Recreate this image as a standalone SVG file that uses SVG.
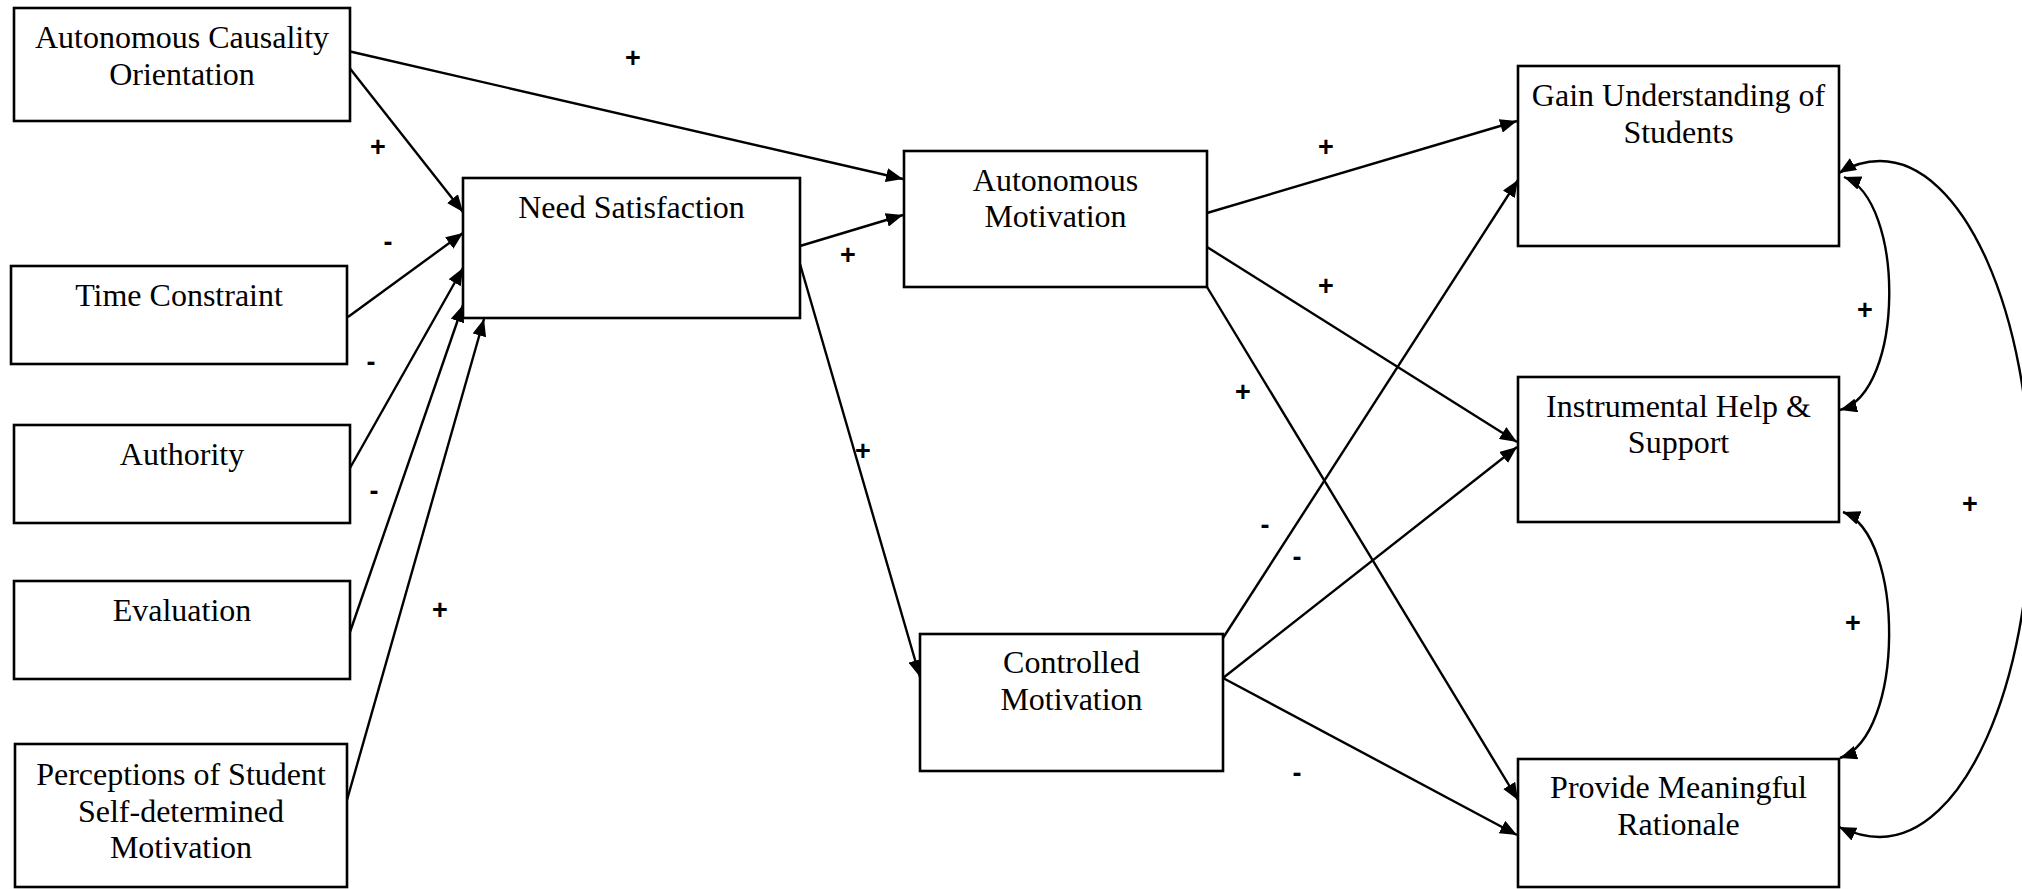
<svg xmlns="http://www.w3.org/2000/svg" width="2022" height="889" viewBox="0 0 2022 889">
<style>
.box{fill:#fff;stroke:#000;stroke-width:2.6}
.t{font-family:'Liberation Serif','Times New Roman',Tinos,'DejaVu Serif',serif;font-size:32px;text-anchor:middle;fill:#000}
.e{fill:none;stroke:#000;stroke-width:2.4}
.lb{font-family:'Liberation Sans',Arial,sans-serif;font-size:27px;font-weight:bold;text-anchor:middle;fill:#000}
</style>
<defs>
<marker id="ah" markerUnits="userSpaceOnUse" markerWidth="17" markerHeight="14" refX="17" refY="7" orient="auto-start-reverse" viewBox="0 0 17 14">
<path d="M0,0 L17,7 L0,14 z" fill="#000"/>
</marker>
</defs>
<rect width="2022" height="889" fill="#fff"/>
<g id="connectors">
<line class="e" x1="348" y1="51" x2="903" y2="179" marker-end="url(#ah)"/>
<line class="e" x1="348" y1="66" x2="463" y2="212" marker-end="url(#ah)"/>
<line class="e" x1="348" y1="317" x2="463" y2="233" marker-end="url(#ah)"/>
<line class="e" x1="350" y1="468" x2="463" y2="268" marker-end="url(#ah)"/>
<line class="e" x1="350" y1="632" x2="463" y2="305" marker-end="url(#ah)"/>
<line class="e" x1="347" y1="800" x2="484" y2="319" marker-end="url(#ah)"/>
<line class="e" x1="800" y1="246" x2="903" y2="215" marker-end="url(#ah)"/>
<line class="e" x1="800" y1="264" x2="920" y2="677" marker-end="url(#ah)"/>
<line class="e" x1="1207" y1="213" x2="1517" y2="121" marker-end="url(#ah)"/>
<line class="e" x1="1207" y1="247" x2="1517" y2="442" marker-end="url(#ah)"/>
<line class="e" x1="1207" y1="287" x2="1518" y2="800" marker-end="url(#ah)"/>
<line class="e" x1="1223" y1="638" x2="1518" y2="180" marker-end="url(#ah)"/>
<line class="e" x1="1223" y1="678" x2="1517" y2="447" marker-end="url(#ah)"/>
<line class="e" x1="1223" y1="678" x2="1517" y2="835" marker-end="url(#ah)"/>
<path class="e" d="M1844,177 C1905,200 1905,392 1840,410" marker-start="url(#ah)" marker-end="url(#ah)"/>
<path class="e" d="M1843,512 C1905,535 1905,736 1840,758" marker-start="url(#ah)" marker-end="url(#ah)"/>
<path class="e" d="M1839,173 C1852,165 1865,161 1880,161 C1963,161 2031,312 2031,499 C2031,686 1963,837 1880,837 C1865,837 1852,833 1839,827" marker-start="url(#ah)" marker-end="url(#ah)"/>
<text class="lb" x="633" y="67">+</text>
<text class="lb" x="378" y="156">+</text>
<text class="lb" x="388" y="251">-</text>
<text class="lb" x="371" y="371">-</text>
<text class="lb" x="374" y="500">-</text>
<text class="lb" x="440" y="619">+</text>
<text class="lb" x="848" y="264">+</text>
<text class="lb" x="863" y="460">+</text>
<text class="lb" x="1326" y="156">+</text>
<text class="lb" x="1326" y="295">+</text>
<text class="lb" x="1243" y="401">+</text>
<text class="lb" x="1265" y="534">-</text>
<text class="lb" x="1297" y="566">-</text>
<text class="lb" x="1297" y="782">-</text>
<text class="lb" x="1865" y="319">+</text>
<text class="lb" x="1970" y="513">+</text>
<text class="lb" x="1853" y="632">+</text>
</g>
<g id="aco"><rect class="box" x="14" y="8" width="336" height="113"/><text class="t" x="182" y="48">Autonomous Causality</text><text class="t" x="182" y="85">Orientation</text></g>
<g id="time"><rect class="box" x="11" y="266" width="336" height="98"/><text class="t" x="179" y="306">Time Constraint</text></g>
<g id="authority"><rect class="box" x="14" y="425" width="336" height="98"/><text class="t" x="182" y="465">Authority</text></g>
<g id="evaluation"><rect class="box" x="14" y="581" width="336" height="98"/><text class="t" x="182" y="621">Evaluation</text></g>
<g id="perceptions"><rect class="box" x="15" y="744" width="332" height="143"/><text class="t" x="181" y="785">Perceptions of Student</text><text class="t" x="181" y="822">Self-determined</text><text class="t" x="181" y="858">Motivation</text></g>
<g id="need"><rect class="box" x="463" y="178" width="337" height="140"/><text class="t" x="631.5" y="218">Need Satisfaction</text></g>
<g id="automot"><rect class="box" x="904" y="151" width="303" height="136"/><text class="t" x="1055.5" y="191">Autonomous</text><text class="t" x="1055.5" y="227">Motivation</text></g>
<g id="ctrlmot"><rect class="box" x="920" y="634" width="303" height="137"/><text class="t" x="1071.5" y="673">Controlled</text><text class="t" x="1071.5" y="710">Motivation</text></g>
<g id="gain"><rect class="box" x="1518" y="66" width="321" height="180"/><text class="t" x="1678.5" y="106">Gain Understanding of</text><text class="t" x="1678.5" y="143">Students</text></g>
<g id="instr"><rect class="box" x="1518" y="377" width="321" height="145"/><text class="t" x="1678.5" y="417">Instrumental Help &amp;</text><text class="t" x="1678.5" y="453">Support</text></g>
<g id="provide"><rect class="box" x="1518" y="759" width="321" height="128"/><text class="t" x="1678.5" y="798">Provide Meaningful</text><text class="t" x="1678.5" y="835">Rationale</text></g>
</svg>
